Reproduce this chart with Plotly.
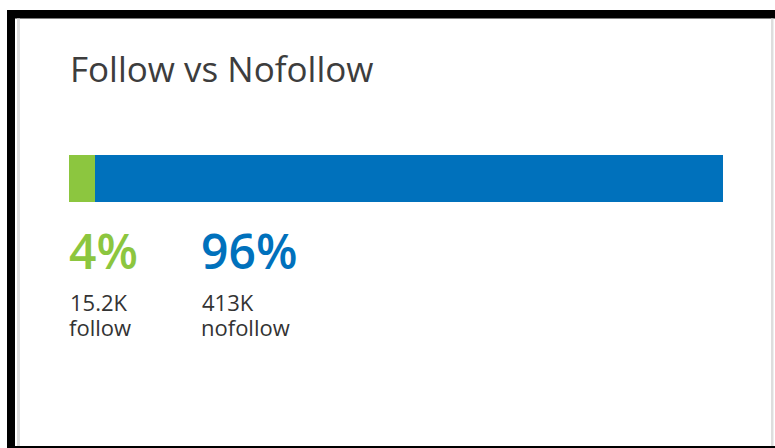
import plotly.graph_objects as go

# ---- data ----
categories = ["follow", "nofollow"]
counts = [15200, 413000]
count_labels = ["15.2K", "413K"]
colors = ["#8cc63f", "#0071bc"]
title_text = "Follow vs Nofollow"

W, H = 775, 448
total = sum(counts)
pcts = [round(100 * c / total) for c in counts]


def px(x):
    return x / W


def py(y):
    return 1 - y / H


fig = go.Figure()
# the bar is split by the rounded shares, as the widget does
for cat, val, col in zip(categories, pcts, colors):
    fig.add_trace(go.Bar(
        x=[val], y=["links"], orientation="h", name=cat,
        marker=dict(color=col, line=dict(width=0)), width=1,
        hoverinfo="skip", showlegend=False,
    ))

font_family = "Open Sans, Noto Sans, sans-serif"
annotations = [
    dict(x=px(69), y=py(68), text=title_text, xref="paper", yref="paper",
         xanchor="left", yanchor="middle", showarrow=False, borderpad=0,
         font=dict(family=font_family, size=35, color="#3d3d3d")),
]
label_x = [68, 200]
for i in range(len(categories)):
    annotations.append(dict(
        x=px(label_x[i]), y=py(250), text=f"{pcts[i]}%", xref="paper", yref="paper",
        xanchor="left", yanchor="middle", showarrow=False, borderpad=0,
        font=dict(family=font_family, size=48, color=colors[i], weight=600)))
    annotations.append(dict(
        x=px(label_x[i] + 1), y=py(302), text=count_labels[i], xref="paper", yref="paper",
        xanchor="left", yanchor="middle", showarrow=False, borderpad=0,
        font=dict(family=font_family, size=22, color="#333333")))
    annotations.append(dict(
        x=px(label_x[i]), y=py(327), text=categories[i], xref="paper", yref="paper",
        xanchor="left", yanchor="middle", showarrow=False, borderpad=0,
        font=dict(family=font_family, size=22, color="#333333")))

shapes = [
    # black frame
    dict(type="rect", xref="paper", yref="paper", x0=px(7), x1=px(15), y0=py(448), y1=py(10),
         fillcolor="black", line=dict(width=0), layer="above"),
    dict(type="rect", xref="paper", yref="paper", x0=px(7), x1=px(775), y0=py(18.5), y1=py(10),
         fillcolor="black", line=dict(width=0), layer="above"),
    dict(type="rect", xref="paper", yref="paper", x0=px(7), x1=px(775), y0=py(448), y1=py(446),
         fillcolor="black", line=dict(width=0), layer="above"),
    # light grey inner edges
    dict(type="rect", xref="paper", yref="paper", x0=px(17), x1=px(20), y0=py(446), y1=py(18.5),
         fillcolor="#dddddd", line=dict(width=0), layer="above"),
    dict(type="rect", xref="paper", yref="paper", x0=px(771), x1=px(773.5), y0=py(446), y1=py(18.5),
         fillcolor="#dddddd", line=dict(width=0), layer="above"),
]

fig.update_layout(
    width=W, height=H,
    margin=dict(l=0, r=0, t=0, b=0),
    paper_bgcolor="white", plot_bgcolor="white",
    barmode="stack", bargap=0,
    xaxis=dict(domain=[px(69), px(723)], range=[0, sum(pcts)], visible=False, fixedrange=True),
    yaxis=dict(domain=[py(202), py(154.5)], visible=False, fixedrange=True),
    annotations=annotations,
    shapes=shapes,
)

fig.write_html("out.html", config={"displayModeBar": False})
